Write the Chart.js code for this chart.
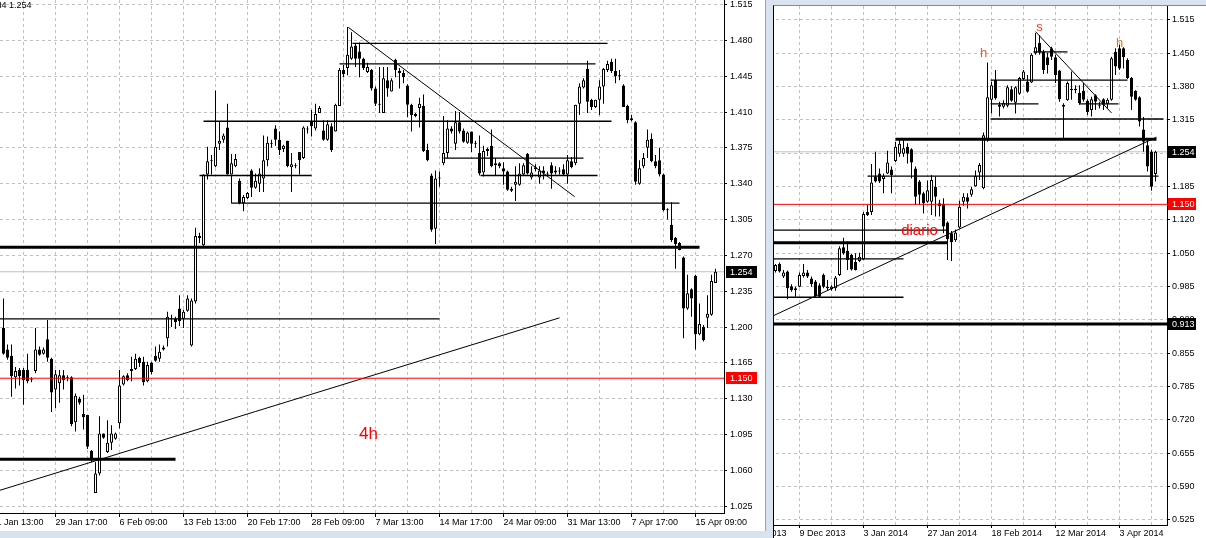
<!DOCTYPE html>
<html>
<head>
<meta charset="utf-8">
<script src="https://cdn.jsdelivr.net/npm/chart.js@4.4.1/dist/chart.umd.min.js"></script>
<style>
  html, body { margin: 0; padding: 0; }
  body { width: 1206px; height: 538px; overflow: hidden; position: relative; background: #d9e3ef; }
  #leftWrap { position: absolute; left: 0; top: 0; width: 765px; height: 531px; overflow: hidden; background: #fff; border-right: 1px solid #9aa4b0; }
  #rightWrap { position: absolute; left: 773px; top: 5px; width: 432px; height: 540px; overflow: hidden; background: #fff; border-left: 1px solid #000; border-top: 1px solid #8a8a8a; }
  canvas { position: absolute; top: 0; }
  #h4 { left: -48px; }
  #d1 { left: -70px; }
</style>
</head>
<body>
<div id="leftWrap"><canvas id="h4" width="813" height="531"></canvas></div>
<div id="rightWrap"><canvas id="d1" width="502" height="540"></canvas></div>
<script>
"use strict";

// ---- 4h chart (left) ----
const h4Open = [
  1.199, 1.178, 1.172, 1.151, 1.158, 1.158, 1.158, 1.148, 1.157, 1.178,
  1.174, 1.188, 1.169, 1.139, 1.145, 1.153, 1.151, 1.151, 1.107, 1.130,
  1.115, 1.114, 1.079, 1.038, 1.057, 1.096, 1.078, 1.087, 1.091, 1.106,
  1.144, 1.153, 1.157, 1.159, 1.170, 1.166, 1.147, 1.165, 1.172, 1.169,
  1.180, 1.189, 1.209, 1.208, 1.218, 1.208, 1.216, 1.182, 1.225, 1.289,
  1.280, 1.349, 1.362, 1.357, 1.379, 1.383, 1.395, 1.349, 1.357, 1.343,
  1.321, 1.326, 1.353, 1.336, 1.340, 1.345, 1.363, 1.380, 1.394, 1.383,
  1.374, 1.382, 1.356, 1.357, 1.371, 1.365, 1.393, 1.401, 1.394, 1.409,
  1.392, 1.383, 1.396, 1.391, 1.416, 1.451, 1.453, 1.462, 1.475, 1.469,
  1.462, 1.449, 1.451, 1.433, 1.418, 1.409, 1.441, 1.430, 1.461, 1.450,
  1.448, 1.436, 1.417, 1.408, 1.414, 1.416, 1.373, 1.348, 1.296, 1.345,
  1.360, 1.370, 1.394, 1.379, 1.400, 1.392, 1.380, 1.391, 1.379, 1.370,
  1.351, 1.374, 1.377, 1.360, 1.360, 1.355, 1.352, 1.333, 1.339, 1.339,
  1.349, 1.369, 1.346, 1.354, 1.346, 1.353, 1.350, 1.358, 1.353, 1.353,
  1.354, 1.349, 1.362, 1.360, 1.418, 1.434, 1.452, 1.422, 1.415, 1.422,
  1.435, 1.451, 1.459, 1.450, 1.446, 1.436, 1.416, 1.404, 1.400, 1.340,
  1.357, 1.375, 1.384, 1.362, 1.363, 1.349, 1.315, 1.300, 1.287, 1.282,
  1.268, 1.218, 1.237, 1.250, 1.193, 1.200, 1.209, 1.212, 1.243,
];
const h4High = [
  1.228, 1.183, 1.183, 1.161, 1.160, 1.160, 1.174, 1.151, 1.199, 1.181,
  1.180, 1.207, 1.170, 1.158, 1.158, 1.158, 1.153, 1.152, 1.135, 1.132,
  1.134, 1.114, 1.080, 1.068, 1.113, 1.096, 1.109, 1.104, 1.097, 1.158,
  1.153, 1.155, 1.171, 1.174, 1.171, 1.171, 1.166, 1.166, 1.181, 1.183,
  1.182, 1.215, 1.212, 1.210, 1.231, 1.217, 1.231, 1.228, 1.297, 1.292,
  1.349, 1.376, 1.368, 1.431, 1.401, 1.389, 1.418, 1.369, 1.369, 1.345,
  1.329, 1.332, 1.354, 1.350, 1.355, 1.387, 1.386, 1.383, 1.397, 1.391,
  1.378, 1.382, 1.370, 1.360, 1.371, 1.396, 1.396, 1.412, 1.418, 1.416,
  1.402, 1.402, 1.399, 1.418, 1.453, 1.456, 1.493, 1.488, 1.477, 1.478,
  1.463, 1.458, 1.452, 1.435, 1.454, 1.454, 1.454, 1.443, 1.462, 1.453,
  1.451, 1.437, 1.418, 1.409, 1.424, 1.427, 1.379, 1.350, 1.353, 1.352,
  1.406, 1.402, 1.396, 1.411, 1.410, 1.394, 1.391, 1.391, 1.382, 1.387,
  1.377, 1.375, 1.393, 1.365, 1.361, 1.361, 1.353, 1.337, 1.357, 1.360,
  1.360, 1.370, 1.357, 1.359, 1.357, 1.357, 1.352, 1.361, 1.357, 1.356,
  1.359, 1.368, 1.366, 1.417, 1.438, 1.443, 1.460, 1.423, 1.422, 1.441,
  1.453, 1.460, 1.462, 1.462, 1.451, 1.437, 1.417, 1.407, 1.401, 1.363,
  1.370, 1.393, 1.389, 1.368, 1.375, 1.350, 1.316, 1.322, 1.288, 1.283,
  1.269, 1.251, 1.238, 1.251, 1.223, 1.202, 1.231, 1.251, 1.257,
];
const h4Low = [
  1.173, 1.168, 1.132, 1.140, 1.143, 1.124, 1.145, 1.146, 1.155, 1.172,
  1.173, 1.166, 1.117, 1.121, 1.126, 1.139, 1.147, 1.103, 1.098, 1.124,
  1.100, 1.081, 1.068, 1.038, 1.055, 1.091, 1.077, 1.080, 1.090, 1.101,
  1.143, 1.147, 1.147, 1.158, 1.161, 1.143, 1.146, 1.154, 1.166, 1.166,
  1.177, 1.181, 1.200, 1.198, 1.201, 1.199, 1.215, 1.181, 1.223, 1.282,
  1.279, 1.344, 1.349, 1.356, 1.373, 1.380, 1.349, 1.349, 1.356, 1.320,
  1.313, 1.325, 1.327, 1.335, 1.332, 1.332, 1.357, 1.375, 1.377, 1.368,
  1.371, 1.356, 1.332, 1.355, 1.349, 1.364, 1.389, 1.386, 1.392, 1.409,
  1.382, 1.382, 1.371, 1.391, 1.416, 1.444, 1.446, 1.461, 1.454, 1.444,
  1.451, 1.448, 1.431, 1.416, 1.409, 1.409, 1.425, 1.430, 1.444, 1.433,
  1.438, 1.405, 1.391, 1.405, 1.395, 1.371, 1.362, 1.293, 1.281, 1.337,
  1.358, 1.365, 1.389, 1.373, 1.389, 1.380, 1.379, 1.371, 1.375, 1.348,
  1.347, 1.367, 1.356, 1.348, 1.355, 1.339, 1.333, 1.332, 1.323, 1.338,
  1.348, 1.349, 1.344, 1.352, 1.340, 1.344, 1.347, 1.335, 1.349, 1.349,
  1.348, 1.340, 1.355, 1.358, 1.407, 1.433, 1.409, 1.412, 1.414, 1.407,
  1.418, 1.449, 1.448, 1.438, 1.441, 1.415, 1.399, 1.401, 1.339, 1.339,
  1.355, 1.365, 1.361, 1.355, 1.347, 1.313, 1.305, 1.283, 1.257, 1.275,
  1.189, 1.217, 1.210, 1.178, 1.192, 1.186, 1.199, 1.211, 1.243,
];
const h4Close = [
  1.174, 1.170, 1.152, 1.157, 1.152, 1.148, 1.147, 1.149, 1.178, 1.173,
  1.178, 1.170, 1.136, 1.154, 1.153, 1.148, 1.150, 1.105, 1.133, 1.126,
  1.112, 1.083, 1.070, 1.057, 1.096, 1.092, 1.087, 1.096, 1.096, 1.143,
  1.152, 1.148, 1.159, 1.169, 1.165, 1.146, 1.163, 1.156, 1.167, 1.176,
  1.178, 1.210, 1.208, 1.205, 1.206, 1.215, 1.228, 1.226, 1.289, 1.287,
  1.349, 1.362, 1.363, 1.376, 1.382, 1.387, 1.349, 1.360, 1.364, 1.321,
  1.327, 1.331, 1.336, 1.343, 1.350, 1.363, 1.380, 1.379, 1.383, 1.373,
  1.377, 1.357, 1.359, 1.357, 1.363, 1.395, 1.393, 1.396, 1.408, 1.414,
  1.383, 1.398, 1.373, 1.417, 1.451, 1.447, 1.466, 1.474, 1.462, 1.462,
  1.453, 1.454, 1.433, 1.418, 1.417, 1.443, 1.433, 1.441, 1.451, 1.448,
  1.444, 1.417, 1.407, 1.406, 1.418, 1.372, 1.363, 1.295, 1.345, 1.345,
  1.370, 1.394, 1.391, 1.400, 1.391, 1.381, 1.390, 1.379, 1.379, 1.350,
  1.372, 1.372, 1.357, 1.358, 1.357, 1.352, 1.334, 1.335, 1.342, 1.350,
  1.358, 1.350, 1.351, 1.356, 1.353, 1.350, 1.349, 1.350, 1.351, 1.352,
  1.349, 1.363, 1.356, 1.417, 1.435, 1.441, 1.420, 1.415, 1.422, 1.435,
  1.452, 1.457, 1.450, 1.445, 1.445, 1.415, 1.402, 1.402, 1.342, 1.355,
  1.365, 1.383, 1.362, 1.357, 1.349, 1.314, 1.314, 1.285, 1.281, 1.275,
  1.218, 1.233, 1.228, 1.193, 1.203, 1.187, 1.213, 1.245, 1.254,
];
const h4DateLabels = [
  "21 Jan 13:00", "29 Jan 17:00", "6 Feb 09:00", "13 Feb 13:00", "20 Feb 17:00", "28 Feb 09:00",
  "7 Mar 13:00", "14 Mar 17:00", "24 Mar 09:00", "31 Mar 13:00", "7 Apr 17:00", "15 Apr 09:00",
];
const h4PriceLabels = [
  "1.515", "1.480", "1.445", "1.410", "1.375", "1.340", "1.305", "1.270",
  "1.235", "1.200", "1.165", "1.130", "1.095", "1.060", "1.025",
];
// [price, from bar, to bar]  (null = chart edge)
const h4Levels = [
  [1.477, 87.25, 151], [1.457, 84, 148], [1.401, 50, 152], [1.365, 110, 145],
  [1.348, 49, 77], [1.348, 119.25, 148.5], [1.321, 57, 169], [1.208, null, 109],
];
const h4BoldLevels = [[1.278, null, 174], [1.071, null, 43]];
// [bar1, price1, bar2, price2]
const h4Trends = [[-13, 1.026, 139, 1.209], [86.2, 1.4927, 142.8, 1.3273], [57, 1.348, 57, 1.321]];
const h4Notes = [["4h", 91.25, 1.0956]];

// ---- daily chart (right) ----
const d1Open = [
  1.018, 1.032, 1.007, 1.017, 0.988, 0.984, 0.987, 1.008, 1.015, 1.003,
  0.997, 0.990, 1.010, 0.987, 0.982, 0.984, 1.010, 1.065, 1.058, 1.050,
  1.036, 1.038, 1.041, 1.135, 1.135, 1.205, 1.211, 1.200, 1.211, 1.219,
  1.236, 1.250, 1.250, 1.264, 1.259, 1.221, 1.195, 1.172, 1.155, 1.155,
  1.185, 1.152, 1.151, 1.114, 1.093, 1.079, 1.104, 1.155, 1.164, 1.169,
  1.186, 1.213, 1.182, 1.279, 1.357, 1.396, 1.343, 1.343, 1.345, 1.378,
  1.351, 1.369, 1.398, 1.393, 1.391, 1.449, 1.470, 1.452, 1.441, 1.459,
  1.441, 1.415, 1.347, 1.356, 1.379, 1.379, 1.371, 1.375, 1.355, 1.337,
  1.366, 1.347, 1.358, 1.349, 1.357, 1.452, 1.459, 1.459, 1.436, 1.400,
  1.375, 1.362, 1.298, 1.267, 1.254, 1.210,
];
const d1High = [
  1.032, 1.035, 1.020, 1.019, 0.992, 0.987, 1.015, 1.032, 1.020, 1.007,
  1.000, 0.994, 1.013, 1.000, 0.990, 1.008, 1.067, 1.084, 1.076, 1.052,
  1.053, 1.054, 1.135, 1.149, 1.230, 1.254, 1.221, 1.211, 1.256, 1.225,
  1.274, 1.280, 1.277, 1.271, 1.261, 1.225, 1.198, 1.175, 1.197, 1.208,
  1.205, 1.159, 1.162, 1.116, 1.097, 1.100, 1.157, 1.172, 1.172, 1.185,
  1.217, 1.232, 1.292, 1.431, 1.393, 1.416, 1.353, 1.356, 1.386, 1.384,
  1.384, 1.402, 1.416, 1.406, 1.449, 1.489, 1.485, 1.456, 1.450, 1.462,
  1.446, 1.416, 1.350, 1.393, 1.413, 1.386, 1.386, 1.390, 1.358, 1.363,
  1.368, 1.353, 1.360, 1.360, 1.442, 1.459, 1.466, 1.461, 1.439, 1.402,
  1.376, 1.364, 1.323, 1.277, 1.258, 1.256,
];
const d1Low = [
  1.015, 1.015, 1.004, 0.962, 0.977, 0.967, 0.986, 1.005, 1.004, 0.987,
  0.967, 0.966, 0.984, 0.979, 0.979, 0.979, 1.008, 1.050, 1.020, 1.019,
  1.019, 1.036, 1.040, 1.127, 1.129, 1.193, 1.192, 1.172, 1.210, 1.172,
  1.234, 1.244, 1.244, 1.231, 1.201, 1.149, 1.149, 1.132, 1.153, 1.129,
  1.126, 1.126, 1.093, 1.040, 1.038, 1.076, 1.102, 1.147, 1.142, 1.165,
  1.185, 1.198, 1.180, 1.274, 1.330, 1.357, 1.324, 1.340, 1.342, 1.353,
  1.330, 1.367, 1.396, 1.371, 1.390, 1.446, 1.446, 1.408, 1.409, 1.436,
  1.390, 1.353, 1.279, 1.355, 1.357, 1.370, 1.347, 1.353, 1.327, 1.324,
  1.337, 1.340, 1.337, 1.340, 1.355, 1.406, 1.416, 1.419, 1.398, 1.337,
  1.355, 1.304, 1.254, 1.215, 1.177, 1.195,
];
const d1Close = [
  1.030, 1.017, 1.015, 0.984, 0.980, 0.980, 1.010, 1.015, 1.007, 0.992,
  0.968, 0.967, 0.987, 0.984, 0.987, 1.005, 1.063, 1.053, 1.040, 1.021,
  1.020, 1.046, 1.131, 1.129, 1.193, 1.195, 1.195, 1.206, 1.233, 1.208,
  1.264, 1.270, 1.261, 1.250, 1.233, 1.165, 1.169, 1.152, 1.178, 1.198,
  1.165, 1.146, 1.106, 1.081, 1.075, 1.094, 1.145, 1.165, 1.155, 1.180,
  1.206, 1.228, 1.287, 1.362, 1.386, 1.360, 1.347, 1.351, 1.382, 1.355,
  1.382, 1.400, 1.413, 1.373, 1.446, 1.461, 1.450, 1.416, 1.426, 1.442,
  1.406, 1.358, 1.343, 1.390, 1.376, 1.376, 1.350, 1.357, 1.333, 1.358,
  1.353, 1.345, 1.347, 1.357, 1.439, 1.423, 1.419, 1.441, 1.400, 1.363,
  1.357, 1.314, 1.274, 1.225, 1.185, 1.254,
];
const d1DateLabels = [
  "15 Nov 2013", "9 Dec 2013", "3 Jan 2014", "27 Jan 2014", "18 Feb 2014", "12 Mar 2014", "3 Apr 2014",
];
const d1PriceLabels = [
  "1.515", "1.450", "1.380", "1.315", "1.250", "1.185", "1.120", "1.050",
  "0.985", "0.920", "0.855", "0.785", "0.720", "0.655", "0.590", "0.525",
];
const d1Levels = [
  [1.396, 53.75, 88], [1.452, 64.5, 73], [1.349, 53.75, 65.75], [1.349, 76, 85.75],
  [1.319, 53.75, 97], [1.206, 23, 95.75], [1.099, null, 43], [1.042, null, 32], [0.966, null, 32],
];
const d1BoldLevels = [[1.279, 30, 95.25], [1.074, null, 43], [0.913, null, null]];
const d1Trends = [[-18, 0.865, 95.25, 1.283], [65, 1.492, 84, 1.331]];
const d1Notes = [["diario", 36, 1.097], ["h", 52, 1.448], ["s", 66, 1.500], ["h", 86, 1.469]];

const LAST_PRICE = 1.254;
const TARGET = 1.150;

const FONT_FAMILY = "'Liberation Sans', Arial, sans-serif";
const GRID = "#c0c0c0";

function lineSet(points, width, color) {
  return {
    type: "line",
    data: points,
    borderColor: color,
    borderWidth: width,
    pointRadius: 0,
    fill: false,
    tension: 0,
    order: -1,
  };
}

function makeOverlay(p) {
  return {
    id: "overlay",
    afterDatasetsDraw(chart) {
      const { ctx, scales: { x, y } } = chart;
      ctx.save();
      ctx.textAlign = "center";
      ctx.textBaseline = "middle";
      p.notes.forEach((n, k) => {
        ctx.font = `${p.noteSizes[k]}px ${FONT_FAMILY}`;
        ctx.fillStyle = p.noteColors[k];
        ctx.fillText(n[0], x.getPixelForValue(n[1]), y.getPixelForValue(n[2]));
      });
      ctx.restore();
    },
    afterDraw(chart) {
      const { ctx, scales: { y } } = chart;
      ctx.save();
      ctx.font = `9px ${FONT_FAMILY}`;
      ctx.textBaseline = "middle";
      p.boxes.forEach(([v, bg]) => {
        const py = Math.round(y.getPixelForValue(v));
        ctx.fillStyle = bg;
        ctx.fillRect(y.left + p.boxGap, py - 6, p.boxWidth, 12);
        ctx.fillStyle = "#fff";
        ctx.fillText(v.toFixed(3), y.left + p.boxGap + 4, py + 0.5);
      });
      if (p.title) {
        ctx.fillStyle = "#000";
        ctx.textBaseline = "top";
        ctx.fillText(p.title, p.titleX, 1);
      }
      ctx.restore();
    },
  };
}

function drawPanel(id, p) {
  const n = p.open.length;
  const idx = [...Array(n).keys()];
  const wicks = idx.map(i => ({ x: i, y: [p.low[i], p.high[i]] }));
  const bodies = idx.map(i => ({ x: i, y: [p.open[i], p.close[i]] }));
  const fills = idx.map(i => (p.close[i] >= p.open[i] ? "#fff" : "#000"));
  const from = v => (v === null ? p.xMin - 1 : v);
  const to = v => (v === null ? p.xMax + 1 : v);

  const datasets = [
    {
      type: "bar", data: bodies, backgroundColor: fills, borderColor: "#000",
      borderWidth: 1, borderSkipped: false, barThickness: 3, minBarLength: 1,
      grouped: false, inflateAmount: 0, order: 0,
    },
    {
      type: "bar", data: wicks, backgroundColor: "#000", borderWidth: 0,
      barThickness: 1, grouped: false, inflateAmount: 0, order: 1,
    },
    lineSet([{ x: p.xMin - 1, y: LAST_PRICE }, { x: p.xMax + 1, y: LAST_PRICE }], 1, "#c0c0c0"),
    lineSet([{ x: p.xMin - 1, y: TARGET }, { x: p.xMax + 1, y: TARGET }], 1, "#ff0000"),
  ];
  datasets[2].order = 2;
  p.levels.forEach(([v, a, b]) => datasets.push(lineSet([{ x: from(a), y: v }, { x: to(b), y: v }], 1.3, "#000")));
  p.boldLevels.forEach(([v, a, b]) => datasets.push(lineSet([{ x: from(a), y: v }, { x: to(b), y: v }], 3, "#000")));
  p.trends.forEach(([a, va, b, vb]) => datasets.push(lineSet([{ x: a, y: va }, { x: b, y: vb }], 1, "#000")));

  const gridIdx = [];
  for (let v = p.xGridStart; v <= p.xMax; v += 8) if (v >= p.xMin) gridIdx.push(v);
  const xLabelAt = v => {
    const k = (v - p.xLabelStart) / 16;
    return Number.isInteger(k) && k >= 0 && k < p.xLabels.length ? p.xLabels[k] : "";
  };

  new Chart(document.getElementById(id), {
    type: "bar",
    data: { datasets },
    plugins: [makeOverlay(p)],
    options: {
      responsive: false,
      animation: false,
      devicePixelRatio: 1,
      events: [],
      layout: { padding: 0 },
      plugins: { legend: { display: false }, tooltip: { enabled: false } },
      scales: {
        x: {
          type: "linear", min: p.xMin, max: p.xMax, offset: false, bounds: "data",
          grid: {
            color: GRID, offset: false, tickLength: p.xTickLen, tickBorderDash: [],
            tickColor: c => (c.tick && xLabelAt(c.tick.value) ? "#000" : "rgba(0,0,0,0)"),
          },
          border: { display: true, color: "#000", width: 1, dash: [3, 3] },
          ticks: {
            autoSkip: false, maxRotation: 0, minRotation: 0, align: "start", padding: 0,
            color: "#000", font: { family: FONT_FAMILY, size: 9 },
            callback: v => xLabelAt(v),
          },
          afterBuildTicks: s => { s.ticks = gridIdx.map(v => ({ value: v })); },
          afterFit: s => { s.height = p.xAxisHeight; s.paddingLeft = 0; s.paddingRight = 0; },
        },
        y: {
          type: "linear", position: "right", min: p.yMin, max: p.yMax, bounds: "data", beginAtZero: false,
          grid: { color: GRID, tickLength: 3, tickColor: "#000", tickBorderDash: [] },
          border: { display: true, color: "#000", width: 1, dash: [3, 3] },
          ticks: {
            autoSkip: false, padding: p.yPad, color: "#000",
            font: { family: FONT_FAMILY, size: 9 },
            callback: (v, i) => p.yLabels[i],
          },
          afterBuildTicks: s => { s.ticks = p.yTicks.map(v => ({ value: v })); },
          afterFit: s => { s.width = p.yAxisWidth; s.paddingTop = 0; s.paddingBottom = 0; },
        },
      },
    },
  });
}

drawPanel("h4", {
  open: h4Open, high: h4High, low: h4Low, close: h4Close,
  xMin: -12.875, xMax: 180.125, xGridStart: -11, xLabelStart: -3, xLabels: h4DateLabels,
  xTickLen: 4, xAxisHeight: 18,
  yMin: 1.0184, yMax: 1.5194, yAxisWidth: 41, yPad: 3,
  yTicks: h4PriceLabels.map(Number), yLabels: h4PriceLabels,
  levels: h4Levels, boldLevels: h4BoldLevels, trends: h4Trends,
  notes: h4Notes, noteSizes: [17], noteColors: ["#ff0000"],
  boxes: [[LAST_PRICE, "#000"], [TARGET, "#ff0000"]], boxGap: 2, boxWidth: 31,
  title: "H4 1.254", titleX: 43,
});

drawPanel("d1", {
  open: d1Open, high: d1High, low: d1Low, close: d1Close,
  xMin: -17.875, xMax: 97.875, xGridStart: -18, xLabelStart: -10, xLabels: d1DateLabels,
  xTickLen: 3, xAxisHeight: 21,
  yMin: 0.5151, yMax: 1.5427, yAxisWidth: 39, yPad: 2,
  yTicks: d1PriceLabels.map((s, k) => 1.515 - k * (1.515 - 0.525) / (d1PriceLabels.length - 1)),
  yLabels: d1PriceLabels,
  levels: d1Levels, boldLevels: d1BoldLevels, trends: d1Trends,
  notes: d1Notes, noteSizes: [15, 13, 13, 13], noteColors: ["#ff0000", "#f05a1e", "#f03c28", "#e87810"],
  boxes: [[LAST_PRICE, "#000"], [TARGET, "#ff0000"], [0.913, "#000"]], boxGap: 1, boxWidth: 28,
  title: null, titleX: 0,
});
</script>
</body>
</html>
